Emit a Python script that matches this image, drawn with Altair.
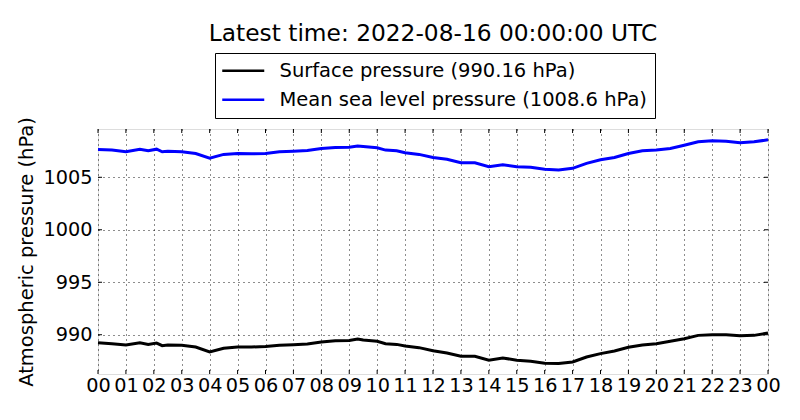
import altair as alt
import pandas as pd

hours = [0, 0.5, 1, 1.5, 1.8, 2.1, 2.3, 2.5, 3, 3.5,
         4, 4.5, 5, 5.5, 6, 6.5, 7, 7.5, 8, 8.5,
         9, 9.3, 9.5, 10, 10.3, 10.7, 11, 11.5, 12, 12.5,
         13, 13.5, 14, 14.5, 15, 15.5, 16, 16.5, 17, 17.5,
         18, 18.5, 19, 19.5, 20, 20.5, 21, 21.5, 22, 22.5,
         23, 23.5, 24]

msl = [1007.65, 1007.59, 1007.43, 1007.68, 1007.53, 1007.68, 1007.43, 1007.49, 1007.43, 1007.27,
       1006.83, 1007.18, 1007.27, 1007.24, 1007.27, 1007.43, 1007.49, 1007.56, 1007.75, 1007.84,
       1007.87, 1007.99, 1007.94, 1007.81, 1007.59, 1007.53, 1007.34, 1007.18, 1006.88, 1006.71,
       1006.39, 1006.39, 1006.01, 1006.2, 1006.01, 1005.95, 1005.76, 1005.69, 1005.85, 1006.33,
       1006.67, 1006.89, 1007.27, 1007.53, 1007.59, 1007.75, 1008.06, 1008.38, 1008.47, 1008.44,
       1008.28, 1008.38, 1008.57]

sfc = [989.24, 989.15, 989.02, 989.24, 989.08, 989.21, 988.96, 989.02, 988.99, 988.83,
       988.36, 988.71, 988.83, 988.83, 988.89, 988.99, 989.05, 989.12, 989.31, 989.43,
       989.46, 989.59, 989.49, 989.37, 989.15, 989.08, 988.93, 988.77, 988.48, 988.26,
       987.95, 987.95, 987.57, 987.79, 987.57, 987.47, 987.28, 987.25, 987.41, 987.88,
       988.2, 988.45, 988.8, 989.02, 989.15, 989.37, 989.62, 989.94, 990.0, 990.0,
       989.9, 989.94, 990.16]

series_names = ["Surface pressure (990.16 hPa)", "Mean sea level pressure (1008.6 hPa)"]
series_colors = ["#000000", "#0000ff"]

x_ticks = list(range(0, 25))
y_ticks = [990, 995, 1000, 1005]
y_domain = [986.26, 1009.6]
title_text = "Latest time: 2022-08-16 00:00:00 UTC"

rows = []
for h, v in zip(hours, sfc):
    rows.append({"hour": h, "p": v, "series": series_names[0]})
for h, v in zip(hours, msl):
    rows.append({"hour": h, "p": v, "series": series_names[1]})
df = pd.DataFrame(rows)

FONT = "DejaVu Sans"
W, H = 670, 245

xscale = alt.Scale(domain=[0, 24], nice=False, zero=False)
yscale = alt.Scale(domain=y_domain, nice=False, zero=False)

xaxis = alt.Axis(values=x_ticks, title=None, ticks=False, labelPadding=2,
                 labelFontSize=19.3, labelFont=FONT, labelColor="black",
                 labelFlush=False, labelOverlap=False,
                 labelExpr="datum.value == 24 ? '00' : (datum.value < 10 ? '0' + datum.value : '' + datum.value)",
                 grid=True, gridColor="black", gridDash=[1, 4], gridWidth=0.9,
                 domain=False)
yaxis = alt.Axis(values=y_ticks, format="d", title="Atmospheric pressure (hPa)", ticks=False,
                 labelPadding=6, labelFontSize=19.3, labelFont=FONT, labelColor="black",
                 labelOverlap=False,
                 titleFontSize=19.5, titleFont=FONT, titleFontWeight="normal",
                 titleColor="black", titlePadding=6,
                 grid=True, gridColor="black", gridDash=[1, 4], gridWidth=0.9,
                 domain=False)

lines = alt.Chart(df).mark_line(strokeWidth=3).encode(
    x=alt.X("hour:Q", scale=xscale, axis=xaxis),
    y=alt.Y("p:Q", scale=yscale, axis=yaxis),
    color=alt.Color("series:N", scale=alt.Scale(domain=series_names, range=series_colors),
                    legend=alt.Legend(title=None, orient="none", legendX=117, legendY=-76,
                                      symbolType="M-1.5,0H4.5", symbolSize=196, symbolStrokeWidth=2.5,
                                      labelFontSize=19.5, labelFont=FONT, labelColor="black",
                                      labelLimit=600, labelOffset=37,
                                      rowPadding=8, padding=8,
                                      strokeColor="black", fillColor="white", cornerRadius=0)),
    order=alt.Order("hour:Q"),
)

tick_df_x = pd.DataFrame({"hour": x_ticks})
tick_df_y = pd.DataFrame({"p": y_ticks})

tick_bottom = alt.Chart(tick_df_x).mark_rule(color="black", strokeWidth=1).encode(
    x=alt.X("hour:Q", scale=xscale, axis=xaxis), y=alt.value(H), y2=alt.value(H - 4))
tick_top = alt.Chart(tick_df_x).mark_rule(color="black", strokeWidth=1).encode(
    x=alt.X("hour:Q", scale=xscale, axis=xaxis), y=alt.value(0), y2=alt.value(4))
tick_left = alt.Chart(tick_df_y).mark_rule(color="black", strokeWidth=1).encode(
    y=alt.Y("p:Q", scale=yscale, axis=yaxis), x=alt.value(0), x2=alt.value(4))
tick_right = alt.Chart(tick_df_y).mark_rule(color="black", strokeWidth=1).encode(
    y=alt.Y("p:Q", scale=yscale, axis=yaxis), x=alt.value(W), x2=alt.value(W - 4))

chart = alt.layer(lines, tick_bottom, tick_top, tick_left, tick_right).properties(
    width=W, height=H,
    title=alt.TitleParams(title_text, fontSize=23.3, font=FONT, fontWeight="normal",
                          color="black", anchor="middle", offset=6),
    padding={"left": 90, "top": 121, "right": 24, "bottom": 38},
    autosize=alt.AutoSizeParams(type="none"),
).configure_view(stroke="black", strokeWidth=1.2).configure(background="white")

chart.save("out.html", embed_options={"renderer": "svg", "actions": False})
